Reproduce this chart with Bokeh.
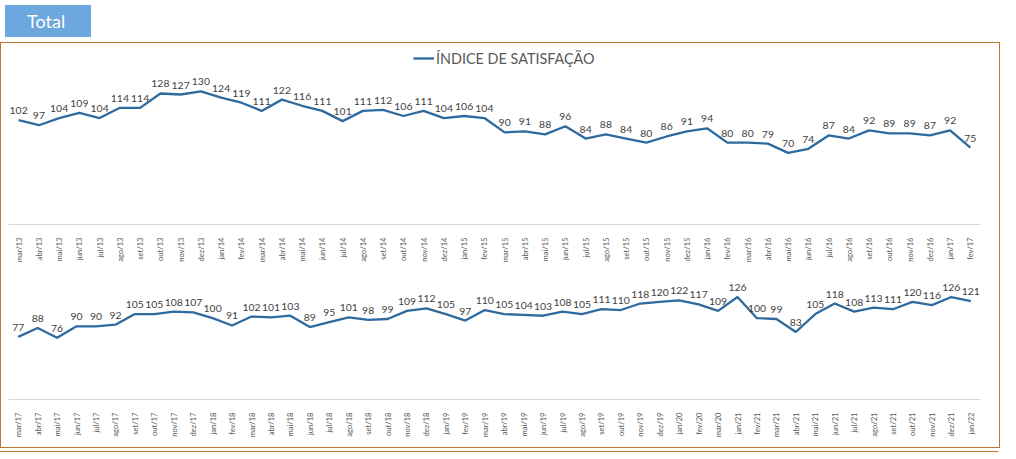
import math
from bokeh.plotting import figure
from bokeh.models import ColumnDataSource, Div, Legend, LegendItem
from bokeh.layouts import column
from bokeh.core.properties import value
from bokeh.embed import file_html
from bokeh.resources import INLINE

months_top = ["mar/13","abr/13","mai/13","jun/13","jul/13","ago/13","set/13","out/13","nov/13","dez/13",
              "jan/14","fev/14","mar/14","abr/14","mai/14","jun/14","jul/14","ago/14","set/14","out/14","nov/14","dez/14",
              "jan/15","fev/15","mar/15","abr/15","mai/15","jun/15","jul/15","ago/15","set/15","out/15","nov/15","dez/15",
              "jan/16","fev/16","mar/16","abr/16","mai/16","jun/16","jul/16","ago/16","set/16","out/16","nov/16","dez/16",
              "jan/17","fev/17"]
values_top = [102, 97, 104, 109, 104, 114, 114, 128, 127, 130,
              124, 119, 111, 122, 116, 111, 101, 111, 112, 106, 111, 104,
              106, 104, 90, 91, 88, 96, 84, 88, 84, 80, 86, 91,
              94, 80, 80, 79, 70, 74, 87, 84, 92, 89, 89, 87,
              92, 75]

months_bottom = ["mar/17","abr/17","mai/17","jun/17","jul/17","ago/17","set/17","out/17","nov/17","dez/17",
                 "jan/18","fev/18","mar/18","abr/18","mai/18","jun/18","jul/18","ago/18","set/18","out/18","nov/18","dez/18",
                 "jan/19","fev/19","mar/19","abr/19","mai/19","jun/19","jul/19","ago/19","set/19","out/19","nov/19","dez/19",
                 "jan/20","fev/20","mar/20",
                 "jan/21","fev/21","mar/21","abr/21","mai/21","jun/21","jul/21","ago/21","set/21","out/21","nov/21","dez/21",
                 "jan/22"]
values_bottom = [77, 88, 76, 90, 90, 92, 105, 105, 108, 107,
                 100, 91, 102, 101, 103, 89, 95, 101, 98, 99, 109, 112,
                 105, 97, 110, 105, 104, 103, 108, 105, 111, 110, 118, 120,
                 122, 117, 109,
                 126, 100, 99, 83, 105, 118, 108, 113, 111, 120, 116, 126,
                 121]

series_name = "ÍNDICE DE SATISFAÇÃO"
tab_title = "Total"

LINE = "#2F6A9F"
FRAME = "#C27730"
FONT = "Lato"
W = 998


def make_panel(cats, vals, height, ymax, mb_left, mb_right, mb_top, mb_bottom, with_legend):
    src = ColumnDataSource(dict(x=cats, y=vals, lbl=[str(v) for v in vals]))
    p = figure(x_range=cats, y_range=(0, ymax), width=W, height=height,
               output_backend="svg", toolbar_location=None,
               min_border_left=mb_left, min_border_right=mb_right,
               min_border_top=mb_top, min_border_bottom=mb_bottom)
    r = p.line("x", "y", source=src, line_color=LINE, line_width=2.3)
    p.text("x", "y", text="lbl", source=src, text_align="center", text_baseline="bottom",
           y_offset=-6, text_font=value(FONT), text_font_size="10.4px", text_color="#404040")
    p.yaxis.visible = False
    p.xgrid.visible = False
    p.ygrid.visible = False
    p.outline_line_color = None
    p.x_range.range_padding = 0
    ax = p.xaxis[0]
    ax.major_label_orientation = math.pi / 2
    ax.major_tick_line_color = None
    ax.minor_tick_line_color = None
    ax.axis_line_color = "#D9D9D9"
    ax.major_label_text_font = FONT
    ax.major_label_text_font_size = "7.6px"
    ax.major_label_text_color = "#595959"
    ax.major_label_standoff = 7
    if with_legend:
        leg = Legend(items=[LegendItem(label=series_name, renderers=[r])],
                     location=(405, 156), orientation="horizontal",
                     label_text_font=FONT, label_text_font_size="14.4px", label_text_color="#595959",
                     glyph_width=21, label_standoff=2, border_line_color=None,
                     background_fill_alpha=0, margin=0, padding=0)
        p.add_layout(leg)
    return p


top = make_panel(months_top, values_top, 229, 170, 7, 3, 7, 48, True)
bottom = make_panel(months_bottom, values_bottom, 174, 150, 7, 19, 5, 47, False)

tab = Div(text=tab_title, width=86, height=32,
          styles={"background-color": "#6CA7DD", "color": "white", "font-size": "18px",
                  "font-family": FONT, "line-height": "32px", "padding-left": "22px",
                  "box-sizing": "border-box"})

bottom_rule = Div(text="", width=W + 2, height=1,
                  styles={"background-color": FRAME, "margin-left": "-1px"})

box = column(top, bottom, bottom_rule, spacing=0, width=W, height=404, sizing_mode="fixed",
             styles={"outline": "1px solid " + FRAME, "margin-left": "1px", "margin-top": "1px"})

page = column(tab, box, spacing=0, width=W + 2, height=440, sizing_mode="fixed")

open("out.html", "w").write(file_html(page, INLINE))
